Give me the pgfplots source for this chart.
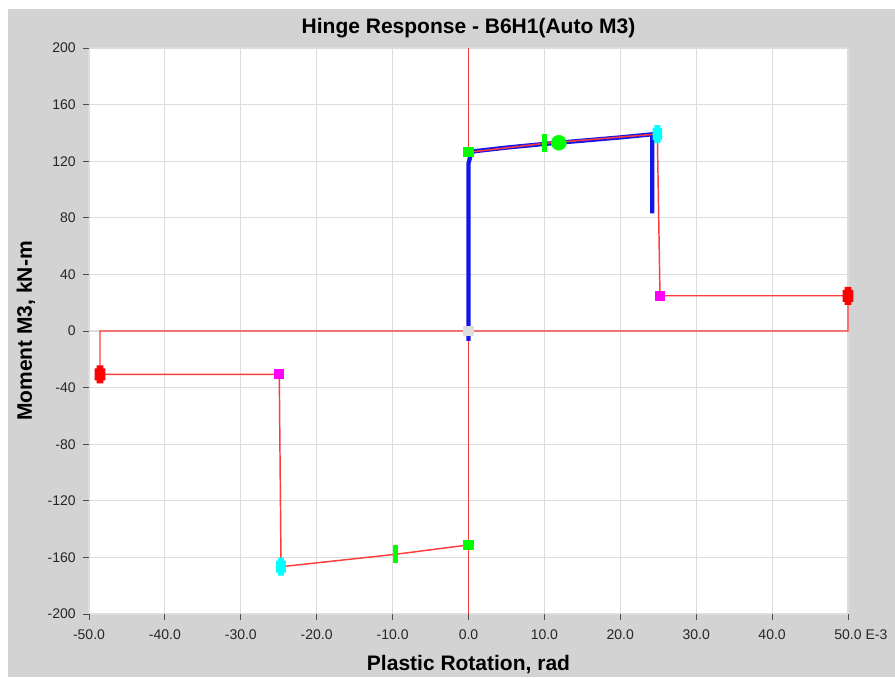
\documentclass[border=0pt]{standalone}
\usepackage{fontspec}
\setmainfont{Liberation Sans}
\usepackage{pgfplots}
\pgfplotsset{compat=1.18}

\definecolor{panelgray}{RGB}{211,211,211}
\definecolor{gridgray}{RGB}{221,221,221}
\definecolor{bbred}{RGB}{255,60,60}
\definecolor{resblue}{RGB}{20,20,235}
\definecolor{mkgreen}{RGB}{0,255,0}
\definecolor{mkcyan}{RGB}{0,255,255}
\definecolor{mkmag}{RGB}{255,0,255}
\definecolor{mkred}{RGB}{255,0,0}
\definecolor{mkgray}{RGB}{222,222,222}

% hinge state marks (1px = 0.75pt)
\pgfdeclareplotmark{capsule}{%
  \pgfpathrectangle{\pgfpoint{-4.1pt}{-4.5pt}}{\pgfpoint{8.2pt}{9pt}}%
  \pgfpathrectangle{\pgfpoint{-2.6pt}{-6.75pt}}{\pgfpoint{5.2pt}{13.5pt}}%
  \pgfusepathqfill}
\pgfdeclareplotmark{slimcap}{%
  \pgfpathrectangle{\pgfpoint{-3.6pt}{-4.5pt}}{\pgfpoint{7.2pt}{9pt}}%
  \pgfpathrectangle{\pgfpoint{-2.2pt}{-6.75pt}}{\pgfpoint{4.4pt}{13.5pt}}%
  \pgfusepathqfill}
\pgfdeclareplotmark{sq}{%
  \pgfpathrectangle{\pgfpoint{-3.8pt}{-3.8pt}}{\pgfpoint{7.6pt}{7.6pt}}%
  \pgfusepathqfill}
\pgfdeclareplotmark{vbar}{%
  \pgfpathrectangle{\pgfpoint{-1.9pt}{-6.75pt}}{\pgfpoint{3.8pt}{13.5pt}}%
  \pgfusepathqfill}

\begin{document}
\begin{tikzpicture}
\fill[white] (0,0) rectangle (671.25pt,507.75pt);
\fill[panelgray] (6.2pt,0) rectangle (671.25pt,501pt);
\begin{axis}[
  at={(66.75pt,47.25pt)}, anchor=south west,
  scale only axis, width=569.25pt, height=424.5pt,
  xmin=-50, xmax=50, ymin=-200, ymax=200,
  clip=false,
  axis background/.style={fill=white},
  axis line style={draw=none},
  tick align=outside, tick pos=left,
  major tick length=4.5pt,
  tick style={black!70, line width=0.7pt},
  grid=major, grid style={gridgray, line width=0.8pt},
  xtick={-50,-40,-30,-20,-10,0,10,20,30,40,50},
  xticklabels={-50.0,-40.0,-30.0,-20.0,-10.0,0.0,10.0,20.0,30.0,40.0,{50.0\rlap{ E-3}}},
  ytick={-200,-160,-120,-80,-40,0,40,80,120,160,200},
  yticklabels={-200,-160,-120,-80,-40,0,40,80,120,160,200},
  ticklabel style={font=\fontsize{10.5}{12}\selectfont, text=black!85},
  xticklabel style={yshift=-3.5pt},
  yticklabel style={xshift=-2pt},
  xlabel={Plastic Rotation, rad},
  xlabel style={at={(axis description cs:0.5,-0.0892)}, anchor=center,
    font=\bfseries\fontsize{15.75}{18}\selectfont},
  ylabel={Moment M3, kN-m},
  ylabel style={at={(axis description cs:-0.083,0.5)}, anchor=center,
    font=\bfseries\fontsize{15.75}{18}\selectfont},
]
% backbone line through the origin
\addplot[bbred, line width=1.1pt] coordinates {(0,-200) (0,200)};
% hinge response
\addplot[resblue, line width=3.2pt] coordinates {
  (0,-7) (0,118.5) (0.3,124.5) (0.7,127) (5,129.6) (10,132.2)
  (15,134.5) (20,136.8) (24.2,139) (24.2,83.2)};
% backbone curve
\addplot[bbred, line width=1.1pt] coordinates {
  (0,-151.2) (-9.59,-157.8) (-24.7,-166.6) (-24.93,-30.6)
  (-48.55,-30.6) (-48.55,0) (50,0) (50,24.9) (25.23,24.9)
  (24.88,139.2) (10.05,132.6) (0,126.3)};
% markers
\addplot[only marks, mark=sq, mkgray] coordinates {(0,0)};
\addplot[only marks, mark=sq, mkgreen] coordinates {(0,126.3) (0,-151.2)};
\addplot[only marks, mark=vbar, mkgreen] coordinates {(10.05,132.6) (-9.59,-157.8)};
\addplot[only marks, mark=slimcap, mkcyan] coordinates {(24.88,139.2) (-24.7,-166.6)};
\addplot[only marks, mark=sq, mkmag] coordinates {(25.23,24.9) (-24.93,-30.6)};
\addplot[only marks, mark=capsule, mkred] coordinates {(50,24.9) (-48.55,-30.6)};
\addplot[only marks, mark=*, mark size=5.6pt, mkgreen] coordinates {(11.9,133)};
\end{axis}
% title, baseline about 34px from the top
\node[font=\bfseries\fontsize{15.75}{18}\selectfont, anchor=base]
  at (351.4pt,482.5pt) {Hinge Response - B6H1(Auto M3)};
\end{tikzpicture}
\end{document}
